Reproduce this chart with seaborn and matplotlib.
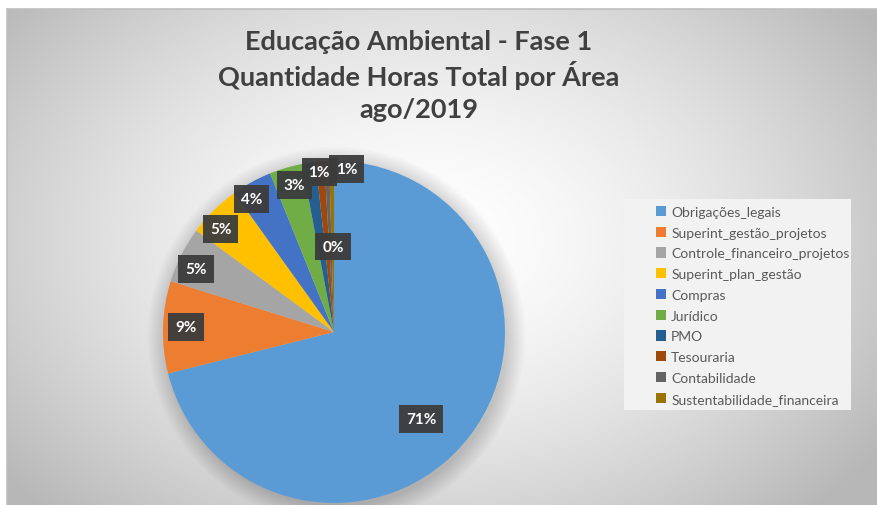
import numpy as np
import matplotlib
matplotlib.use("Agg")
import matplotlib.pyplot as plt
import seaborn as sns
from matplotlib.patches import Rectangle, Circle

# ---- data ----
categories = ["Obrigações_legais", "Superint_gestão_projetos", "Controle_financeiro_projetos",
              "Superint_plan_gestão", "Compras", "Jurídico", "PMO", "Tesouraria",
              "Contabilidade", "Sustentabilidade_financeira"]
hours_share = [71.1, 8.7, 5.3, 5.0, 3.8, 3.1, 1.3, 0.8, 0.45, 0.45]
pct_labels = ["71%", "9%", "5%", "5%", "4%", "3%", "1%", "1%", "0%", None]
title_lines = ["Educação Ambiental - Fase 1", "Quantidade Horas Total por Área", "ago/2019"]

colors = sns.color_palette(["#5B9BD5", "#ED7D31", "#A5A5A5", "#FFC000", "#4472C4",
                            "#70AD47", "#255E91", "#9E480E", "#636363", "#997300"])

# label layout (radius factor, clockwise angular shift in degrees) -- styling only
label_r = [0.72, 0.866, 0.887, 0.894, 0.914, 0.89, 0.94, 0.955, 0.50, 0.5]
label_shift_cw = [7.0, 0.3, -2.3, -3.1, -2.9, 1.2, 3.2, 9.2, 1.7, 0]

sns.set_theme(style="white")
plt.rcParams["font.family"] = ["Lato", "DejaVu Sans"]

W, H = 877, 506
fig = plt.figure(figsize=(W / 100, H / 100), dpi=100)

# background radial gradient
bg = fig.add_axes([7 / W, 0, (W - 7) / W, (H - 10) / H])
bg.set_axis_off()
yy, xx = np.mgrid[0:496, 0:870]
cx, cy = 420, 230
d = np.sqrt(((xx - cx) / 520.0) ** 2 + ((yy - cy) / 360.0) ** 2)
val = np.clip(1.0 - 0.26 * d ** 1.6, 0.72, 1.0)
img = np.dstack([val, val, val])
bg.imshow(img, aspect="auto", extent=[0, 1, 0, 1], origin="upper")
bg.set_xlim(0, 1)
bg.set_ylim(0, 1)
fig.add_artist(plt.Line2D([7 / W, 1], [1 - 10 / H, 1 - 10 / H], color="#bfbfbf", lw=1.2))
fig.add_artist(plt.Line2D([7 / W, 7 / W], [0, 1 - 10 / H], color="#bfbfbf", lw=1.2))

# pie
r_px, cxp, cyp = 171, 334, 333
ax = fig.add_axes([(cxp - r_px) / W, (H - cyp - r_px) / H, 2 * r_px / W, 2 * r_px / H])
ax.set_axis_off()
for k in range(14):
    ax.add_patch(Circle((0.015, -0.02), 1.0 + 0.008 * k, color="black", alpha=0.012,
                        lw=0, clip_on=False, zorder=0))
wedges, _ = ax.pie(hours_share, colors=colors, startangle=90, counterclock=False,
                   radius=1.0, wedgeprops=dict(linewidth=0))
for w in wedges:
    w.set_zorder(2)
ax.set_xlim(-1, 1)
ax.set_ylim(-1, 1)
ax.set_aspect("equal")

for w, lab, rf, sh in zip(wedges, pct_labels, label_r, label_shift_cw):
    if lab is None:
        continue
    th = np.deg2rad((w.theta1 + w.theta2) / 2 - sh)
    ax.text(rf * np.cos(th), rf * np.sin(th), lab, ha="center", va="center",
            fontsize=11, fontweight="bold", color="white", zorder=5,
            bbox=dict(boxstyle="square,pad=0.45", fc="#3c3c3c", ec="none", alpha=0.95))

# title
for i, t in enumerate(title_lines):
    fig.text(419 / W, 1 - (42 + 34 * i) / H, t, ha="center", va="center",
             fontsize=19.5, fontweight="bold", color="#404040")

# legend
fig.add_artist(Rectangle((624 / W, 1 - 411 / H), 227 / W, 211 / H,
                         transform=fig.transFigure, fc="#f2f2f2", ec="none", zorder=3))
leg = fig.legend(wedges, categories, loc="upper left",
                 bbox_to_anchor=(644 / W, 1 - 195 / H), frameon=False,
                 fontsize=10, labelcolor="#595959", handlelength=0.75, handleheight=0.75,
                 handletextpad=0.35, labelspacing=0.63, borderpad=0.35)
leg.set_zorder(4)

fig.savefig("out.png", dpi=100)
